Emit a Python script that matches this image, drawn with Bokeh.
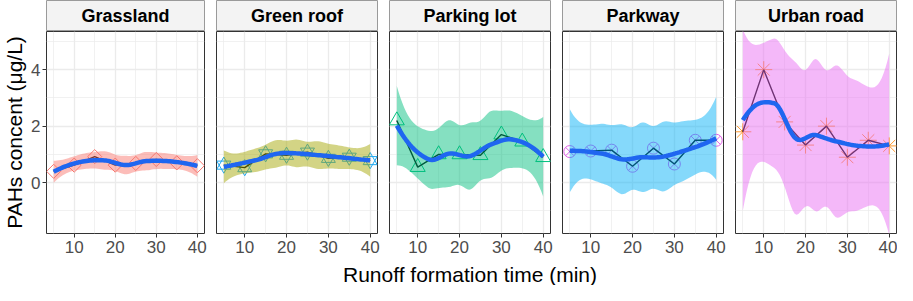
import math
import numpy as np
from bokeh.plotting import figure
from bokeh.layouts import gridplot, column
from bokeh.models import FixedTicker, Label, Range1d
from bokeh.embed import file_html
from bokeh.resources import INLINE

# ---------------- data ----------------
time_min = [5, 10, 15, 20, 25, 30, 35, 40]
panel_names = ["Grassland", "Green roof", "Parking lot", "Parkway", "Urban road"]
grassland = [0.40, 0.62, 0.92, 0.62, 0.68, 0.82, 0.70, 0.60]
green_roof = [0.62, 0.53, 1.02, 0.97, 1.08, 0.86, 0.90, 0.78]
parking_lot = [2.20, 0.55, 1.00, 1.00, 0.97, 1.70, 1.45, 0.90]
parkway = [1.10, 1.12, 1.15, 0.58, 1.22, 0.66, 1.50, 1.50]
urban_road = [1.80, 4.00, 2.15, 1.33, 2.00, 0.90, 1.50, 1.30]
x_ticks = [10, 20, 30, 40]
x_minor = [5, 15, 25, 35]
y_ticks = [0, 2, 4]
y_minor = [-1, 1, 3, 5]
x_title = "Runoff formation time (min)"
y_title = "PAHs concent (μg/L)"

series = [grassland, green_roof, parking_lot, parkway, urban_road]
band_colors = ["#F8766D", "#A3A500", "#00BF7D", "#00B0F6", "#E76BF3"]
marker_colors = ["#F8766D", "#1FA8F0", "#00BF7D", "#E060E8", "#FF9A30"]
SMOOTH = "#1F66F0"


# ---------------- loess smoothing (R loess defaults, as geom_smooth) ----------------
def t_quantile(p, df):
    c = math.exp(math.lgamma((df + 1) / 2) - math.lgamma(df / 2)) / math.sqrt(df * math.pi)

    def cdf(t):
        u = np.linspace(0, t, 4001)
        f = c * (1 + u ** 2 / df) ** (-(df + 1) / 2)
        return 0.5 + np.trapezoid(f, u)

    lo, hi = 0.0, 80.0
    for _ in range(60):
        mid = (lo + hi) / 2
        if cdf(mid) < p:
            lo = mid
        else:
            hi = mid
    return (lo + hi) / 2


def approx_deltas(trl, n, k=3):
    # loess "approximate" statistics (degree 2, one predictor)
    corx = math.sqrt(k / n)
    z = (math.sqrt(k / trl) - corx) / (1 - corx)
    z = min(1.0, max(0.0, z))
    c4 = math.exp(z)
    d1 = n - trl * math.exp(0.1611761 * z ** 0.3091323 * (1 - z) ** 0.4401023 * c4)
    d2 = n - trl * math.exp(0.2075670 * z ** 0.2822574 * (1 - z) ** 0.2369957 * c4)
    return d1, d2


def kd_vertices(x, fc):
    xs_sorted = np.sort(np.asarray(x, float))
    lo, hi = xs_sorted[0], xs_sorted[-1]
    mu = 0.005 * (hi - lo)
    verts = {lo - mu, hi + mu}

    def split(pts):
        if len(pts) <= fc:
            return
        m = (len(pts) + 1) // 2
        t = (pts[m - 1] + pts[m]) / 2
        verts.add(t)
        split(pts[:m])
        split(pts[m:])

    split(list(xs_sorted))
    return np.array(sorted(verts))


def loess_band(x, y, xs, span=0.75, cell=0.2):
    x = np.asarray(x, float)
    y = np.asarray(y, float)
    n = len(x)
    q = int(np.floor(n * span))

    def local(x0):
        d = np.abs(x - x0)
        h = np.sort(d)[q - 1]
        w = np.clip(1 - (d / h) ** 3, 0, None) ** 3
        X = np.vstack([np.ones(n), x - x0, (x - x0) ** 2]).T
        XtW = X.T * w
        B = np.linalg.solve(XtW @ X, XtW)
        return B[0], B[1]

    V = kd_vertices(x, int(np.floor(n * span * cell)))
    L0 = []
    L1 = []
    for v in V:
        a, b = local(v)
        L0.append(a)
        L1.append(b)
    L0 = np.array(L0)
    L1 = np.array(L1)

    def interp_rows(pts):
        rows = []
        for x0 in pts:
            j = int(np.clip(np.searchsorted(V, x0) - 1, 0, len(V) - 2))
            h = V[j + 1] - V[j]
            u = (x0 - V[j]) / h
            phi0 = (1 - u) ** 2 * (1 + 2 * u)
            phi1 = u ** 2 * (3 - 2 * u)
            psi0 = u * (1 - u) ** 2
            psi1 = -u ** 2 * (1 - u)
            rows.append(phi0 * L0[j] + phi1 * L0[j + 1] + h * (psi0 * L1[j] + psi1 * L1[j + 1]))
        return np.array(rows)

    Lhat = interp_rows(x)
    res = y - Lhat @ y
    trl = float(np.trace(Lhat))
    d1, d2 = approx_deltas(trl, n)
    s = math.sqrt(float(np.sum(res ** 2)) / d1)
    Ls = interp_rows(xs)
    fit = Ls @ y
    se = s * np.sqrt(np.sum(Ls ** 2, axis=1))
    tq = t_quantile(0.975, d1 ** 2 / d2)
    return fit, fit - tq * se, fit + tq * se


xs = np.linspace(min(time_min), max(time_min), 80)

# ---------------- layout ----------------
FRAME_W = 161
FRAME_H = 202
STRIP_H = 31
BOTTOM = 27
TITLE_H = 25
lefts = [43, 6, 6, 6, 6]
rights = [6, 6, 6, 6, 1]
widths = [l + FRAME_W + r for l, r in zip(lefts, rights)]
TOTAL_W = sum(widths)
FONT = "Liberation Sans"

strips = []
panels = []
for i, (name, vals) in enumerate(zip(panel_names, series)):
    w = widths[i]

    s = figure(width=w, height=STRIP_H, x_range=Range1d(0, 1), y_range=Range1d(0, 1),
               output_backend="svg", toolbar_location=None,
               x_axis_location=None, y_axis_location=None,
               min_border_left=lefts[i], min_border_right=rights[i],
               min_border_top=0, min_border_bottom=0)
    s.grid.visible = False
    s.background_fill_color = "#F3F3F3"
    s.border_fill_color = "white"
    s.outline_line_color = "#9A9A9A"
    s.outline_line_width = 1
    s.add_layout(Label(x=0.5, y=0.5, text=name, text_align="center", text_baseline="middle",
                       text_font=FONT, text_font_size="18px", text_font_style="bold",
                       text_color="black"))
    strips.append(s)

    p = figure(width=w, height=FRAME_H + BOTTOM,
               x_range=Range1d(3.25, 41.75), y_range=Range1d(-1.8, 5.35),
               output_backend="svg", toolbar_location=None,
               y_axis_location="left" if i == 0 else None,
               min_border_left=lefts[i], min_border_right=rights[i],
               min_border_top=0, min_border_bottom=BOTTOM)
    p.background_fill_color = "white"
    p.border_fill_color = "white"
    p.outline_line_color = "#333333"
    p.outline_line_width = 1

    p.xgrid.ticker = FixedTicker(ticks=x_ticks, minor_ticks=x_minor)
    p.ygrid.ticker = FixedTicker(ticks=y_ticks, minor_ticks=y_minor)
    for g in (p.xgrid, p.ygrid):
        g.grid_line_color = "#EBEBEB"
        g.grid_line_width = 1.3
        g.minor_grid_line_color = "#EBEBEB"
        g.minor_grid_line_width = 0.7

    p.xaxis.ticker = FixedTicker(ticks=x_ticks)
    axes = [p.xaxis[0]]
    if i == 0:
        p.yaxis.ticker = FixedTicker(ticks=y_ticks)
        p.yaxis.axis_label = y_title
        axes.append(p.yaxis[0])
    for ax in axes:
        ax.axis_line_color = None
        ax.major_tick_line_color = "#333333"
        ax.major_tick_out = 4
        ax.major_tick_in = 0
        ax.minor_tick_line_color = None
        ax.major_label_text_font = FONT
        ax.major_label_text_font_size = "17px"
        ax.major_label_text_color = "#4D4D4D"
        ax.axis_label_text_font = FONT
        ax.axis_label_text_font_size = "21px"
        ax.axis_label_text_font_style = "normal"
        ax.axis_label_text_color = "black"
        ax.axis_label_standoff = 2
    p.xaxis.major_label_standoff = 3
    if i == 0:
        p.yaxis.major_label_standoff = 2

    mc = marker_colors[i]
    if i == 0:
        p.scatter(time_min, vals, marker="square", angle=math.pi / 4, size=10,
                  line_color=mc, fill_color=None, line_width=1)
    elif i == 1:
        p.scatter(time_min, vals, marker="triangle", size=14,
                  line_color=mc, fill_color=None, line_width=1)
        p.scatter(time_min, vals, marker="inverted_triangle", size=14,
                  line_color=mc, fill_color=None, line_width=1)
    elif i == 2:
        p.scatter(time_min, vals, marker="triangle", size=15,
                  line_color=mc, fill_color=None, line_width=1)
    elif i == 3:
        p.scatter(time_min, vals, marker="circle_x", size=12,
                  line_color=mc, fill_color=None, line_width=1)
    else:
        p.scatter(time_min, vals, marker="asterisk", size=17,
                  line_color=mc, fill_color=None, line_width=1)

    p.line(time_min, vals, line_color="black", line_width=1.4)

    fit, lo, hi = loess_band(time_min, vals, xs)
    p.varea(x=xs, y1=lo, y2=hi, fill_color=band_colors[i], fill_alpha=0.48)
    p.line(xs, fit, line_color=SMOOTH, line_width=4.5)
    panels.append(p)

# shared x-axis title, centred under the middle panel
t = figure(width=TOTAL_W, height=TITLE_H, x_range=Range1d(0, TOTAL_W), y_range=Range1d(0, 1),
           output_backend="svg", toolbar_location=None,
           x_axis_location=None, y_axis_location=None,
           min_border_left=0, min_border_right=0, min_border_top=0, min_border_bottom=0)
t.grid.visible = False
t.outline_line_color = None
t.background_fill_color = "white"
t.border_fill_color = "white"
mid_x = sum(widths[:2]) + lefts[2] + FRAME_W / 2
t.add_layout(Label(x=mid_x, y=0.45, text=x_title, text_align="center", text_baseline="middle",
                   text_font=FONT, text_font_size="21px", text_color="black"))

grid = gridplot([strips, panels], toolbar_location=None)
layout = column(grid, t)

open("out.html", "w").write(file_html(layout, INLINE))
